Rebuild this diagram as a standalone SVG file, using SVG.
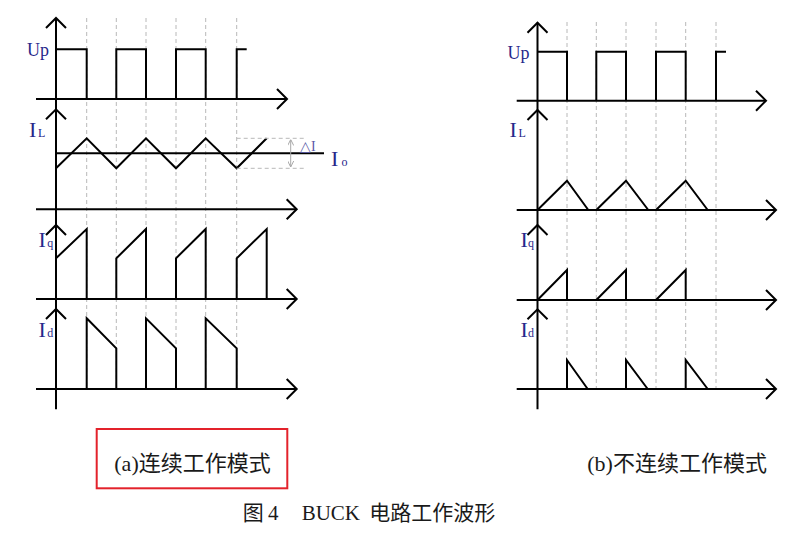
<svg xmlns="http://www.w3.org/2000/svg" xmlns:xlink="http://www.w3.org/1999/xlink" width="802" height="536" viewBox="0 0 802 536">
<style>
  .ax { fill: none; stroke: #000; stroke-width: 2; }
  .wf { fill: none; stroke: #000; stroke-width: 2; stroke-linejoin: miter; }
  .grid { fill: none; stroke: #b8b8b8; stroke-width: 1; stroke-dasharray: 4 3; }
  .dim { fill: none; stroke: #a8a8a8; stroke-width: 1; }
  .lbl { font-family: "Liberation Serif", "Times New Roman", serif; fill: #27278a; }
  .big { font-size: 22px; }
  .sub { font-size: 12px; }
  .up { font-size: 18px; }
  .delta { font-size: 14px; fill: #5a5aa8; }
  .cap { font-family: "Liberation Serif", "Noto Sans CJK SC", serif; font-size: 22px; fill: #1a1a1a; }
  .figcap { font-family: "Liberation Serif", "Noto Sans CJK SC", serif; font-size: 21px; fill: #1a1a1a; }
</style>
<defs>
  <polyline id="chev-up" class="ax" points="-10,10 0,0 10,10"/>
  <polyline id="chev-right" class="ax" points="-10,-10 0,0 -10,10"/>
  <marker id="dimarrow" markerUnits="userSpaceOnUse" markerWidth="6" markerHeight="6" viewBox="0 0 6 6" refX="6" refY="3" orient="auto">
    <path d="M0,0 L6,3 L0,6" fill="none" stroke="#a8a8a8" stroke-width="1"/>
  </marker>
</defs>
<rect width="802" height="536" fill="#fff"/>

<!-- Panel (a): continuous mode -->
<g id="panel-a">
  <g id="a-grid">
    <path class="grid" d="M86.7,18 V389 M116.3,18 V389 M146,18 V389 M176,18 V389 M205.7,18 V389 M236.7,18 V389"/>
  </g>
  <g id="a-axes">
    <path class="ax" d="M56,18 V409.3"/>
    <path class="ax" d="M36,99 H287 M36,209.3 H296.7 M36,299 H296.7 M36,389 H296.7"/>
    <use xlink:href="#chev-up" x="56" y="18"/>
    <use xlink:href="#chev-up" x="56" y="109.3"/>
    <use xlink:href="#chev-up" x="56" y="225"/>
    <use xlink:href="#chev-up" x="56" y="309"/>
    <use xlink:href="#chev-right" x="287" y="99"/>
    <use xlink:href="#chev-right" x="296.7" y="209.3"/>
    <use xlink:href="#chev-right" x="296.7" y="299"/>
    <use xlink:href="#chev-right" x="296.7" y="389"/>
  </g>
  <g id="a-up">
    <path class="wf" d="M56,49.3 H86.7 V99 M116.3,99 V49.3 H146 V99 M176,99 V49.3 H205.7 V99 M236.7,99 V49.3 H246.7"/>
    <text class="lbl up" x="27" y="55.5">Up</text>
  </g>
  <g id="a-il">
    <polyline class="wf" points="56,168.3 86.7,138.3 116.3,168.3 146,138.3 176,168.3 205.7,138.3 236.7,168.3 266.7,138.3"/>
    <path class="wf" d="M56,153.3 H324"/>
    <path class="grid" d="M236.7,138.3 H304 M236.7,168.3 H304"/>
    <path class="dim" d="M290.7,153 V139.5" marker-end="url(#dimarrow)"/>
    <path class="dim" d="M290.7,153 V167" marker-end="url(#dimarrow)"/>
    <text class="lbl delta" x="300" y="150.5">△I</text>
    <text class="lbl big" x="331" y="165.5">I</text>
    <text class="lbl sub" x="341.5" y="165.5">o</text>
    <text class="lbl big" x="29" y="136.7">I</text>
    <text class="lbl sub" x="38" y="136.5">L</text>
  </g>
  <g id="a-iq">
    <path class="wf" d="M56,258.3 L86.7,229 V299 M116.3,299 V258.3 L146,229 V299 M176,299 V258.3 L205.7,229 V299 M236.7,299 V258.3 L266.7,229 V299"/>
    <text class="lbl big" x="38.5" y="246.7">I</text>
    <text class="lbl sub" x="47.3" y="246.7">q</text>
  </g>
  <g id="a-id">
    <path class="wf" d="M86.7,389 V318.3 L116.3,348.3 V389 M146,389 V318.3 L176,348.3 V389 M205.7,389 V318.3 L236.7,348.3 V389"/>
    <text class="lbl big" x="38.5" y="336.7">I</text>
    <text class="lbl sub" x="47.3" y="336.7">d</text>
  </g>
  <g id="a-caption">
    <rect x="96.7" y="429" width="190.6" height="59.3" fill="none" stroke="#e3222b" stroke-width="2"/>
    <text class="cap" x="114.3" y="471">(a)连续工作模式</text>
  </g>
</g>

<!-- Panel (b): discontinuous mode -->
<g id="panel-b">
  <g id="b-grid">
    <path class="grid" d="M567,22 V389 M596.3,22 V389 M626,22 V389 M656,22 V389 M685.7,22 V389 M716,22 V389"/>
  </g>
  <g id="b-axes">
    <path class="ax" d="M537.5,22.7 V409.3"/>
    <path class="ax" d="M516.7,100.7 H766 M516.7,210 H776 M516.7,300 H776 M516.7,389 H776"/>
    <use xlink:href="#chev-up" x="537.5" y="22.7"/>
    <use xlink:href="#chev-up" x="537.5" y="110"/>
    <use xlink:href="#chev-up" x="537.5" y="225"/>
    <use xlink:href="#chev-up" x="537.5" y="309.3"/>
    <use xlink:href="#chev-right" x="766" y="100.7"/>
    <use xlink:href="#chev-right" x="776" y="210"/>
    <use xlink:href="#chev-right" x="776" y="300"/>
    <use xlink:href="#chev-right" x="776" y="389"/>
  </g>
  <g id="b-up">
    <path class="wf" d="M537.5,51.7 H567 V100.7 M596.3,100.7 V51.7 H626 V100.7 M656,100.7 V51.7 H685.7 V100.7 M716,100.7 V51.7 H726"/>
    <text class="lbl up" x="507.5" y="59">Up</text>
  </g>
  <g id="b-il">
    <polyline class="wf" points="537.5,210 567,180.7 588.3,210"/>
    <polyline class="wf" points="596.3,210 626,180.7 648.3,210"/>
    <polyline class="wf" points="656,210 685.7,180.7 707.7,210"/>
    <text class="lbl big" x="509.5" y="137.3">I</text>
    <text class="lbl sub" x="518.5" y="137">L</text>
  </g>
  <g id="b-iq">
    <path class="wf" d="M537.5,300 L567,270 V300 M596.3,300 L626,270 V300 M656,300 L685.7,270 V300"/>
    <text class="lbl big" x="520.5" y="247">I</text>
    <text class="lbl sub" x="528" y="247">q</text>
  </g>
  <g id="b-id">
    <path class="wf" d="M567,389 V360 L587.7,389 M626,389 V360 L647.7,389 M685.7,389 V360 L707.7,389"/>
    <text class="lbl big" x="520.5" y="336.7">I</text>
    <text class="lbl sub" x="528" y="336.7">d</text>
  </g>
  <g id="b-caption">
    <text class="cap" x="587.3" y="471">(b)不连续工作模式</text>
  </g>
</g>

<g id="connectors"></g>

<g id="figure-caption">
  <text class="figcap" y="520"><tspan x="242.7">图</tspan><tspan x="268">4</tspan><tspan x="301.7">BUCK</tspan><tspan x="369.3">电路工作波形</tspan></text>
</g>
</svg>
